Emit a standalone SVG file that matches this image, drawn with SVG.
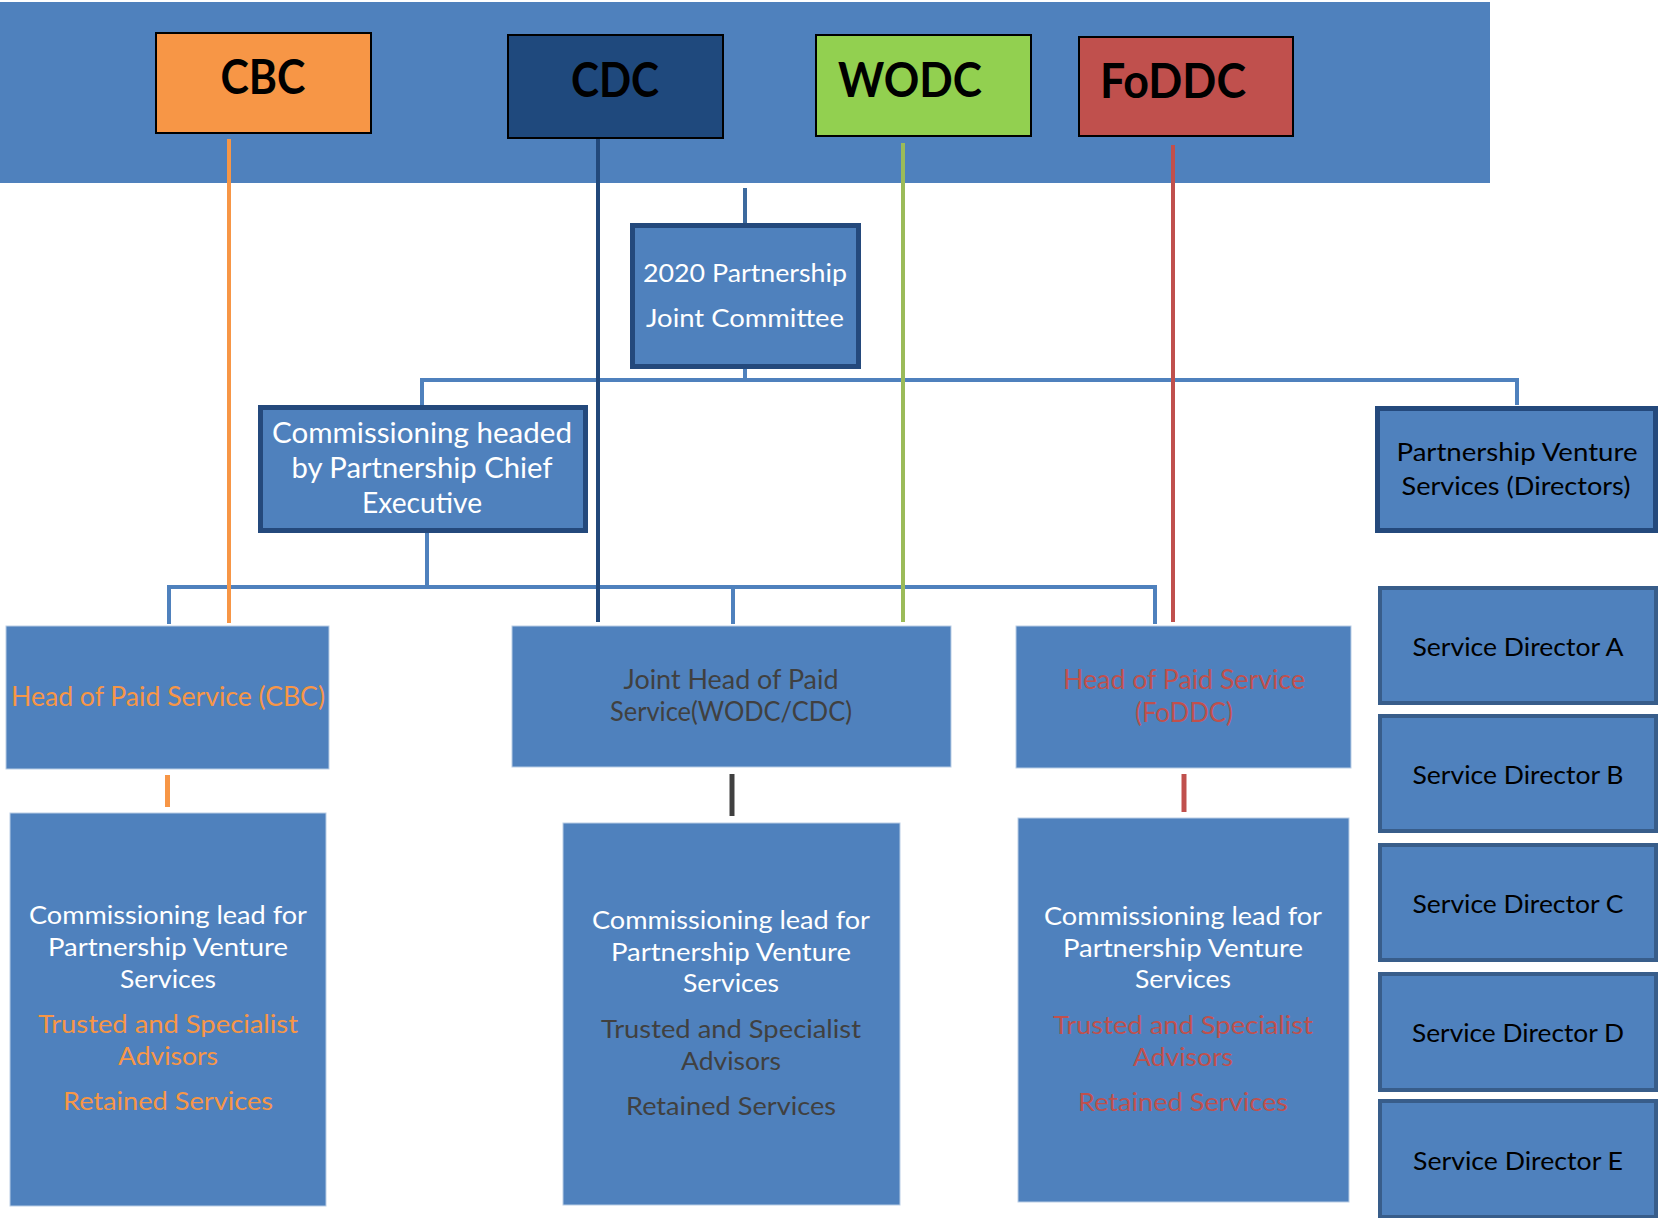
<svg xmlns="http://www.w3.org/2000/svg" width="1658" height="1218" viewBox="0 0 1658 1218">
<style>
  text { font-family: Lato, "Open Sans", "Liberation Sans", sans-serif; text-anchor: middle; }
  .title { font-size: 48px; font-weight: 700; fill: #000; }
  .t25 { font-size: 25px; }
  .t26 { font-size: 26px; }
  .t28 { font-size: 28.5px; }
  .white { fill: #FFFFFF; }
  .black { fill: #000000; }
  .orange { fill: #F79646; }
  .gray { fill: #404040; }
  .red { fill: #C0504D; }
  .box { fill: #4F81BD; }
  .dbox { fill: #4F81BD; stroke: #24497C; stroke-width: 5; }
  .sbox { fill: #4F81BD; stroke: #385D8A; stroke-width: 4; }
  .pbox { fill: #4F81BD; stroke: #B9CDE5; stroke-width: 1; }
  .conn { stroke: #4F81BD; stroke-width: 4; fill: none; }
</style>

<rect id="band" x="0" y="2" width="1490" height="181" fill="#4F81BD"/>

<g id="connectors">
  <line class="conn" x1="745" y1="188" x2="745" y2="223" stroke="#3D6A9E" style="stroke:#3D6A9E"/>
  <line class="conn" x1="745" y1="369" x2="745" y2="380"/>
  <polyline class="conn" points="422,405 422,380 1517,380 1517,405"/>
  <line class="conn" x1="427" y1="533" x2="427" y2="587"/>
  <polyline class="conn" points="169,624 169,587 1155,587 1155,624"/>
  <line class="conn" x1="733" y1="587" x2="733" y2="624"/>
  <line x1="229" y1="139" x2="229" y2="623" stroke="#F79646" stroke-width="4"/>
  <line x1="598" y1="139" x2="598" y2="622" stroke="#22487A" stroke-width="4"/>
  <line x1="903" y1="143" x2="903" y2="622" stroke="#9BBB59" stroke-width="4"/>
  <line x1="1173" y1="145" x2="1173" y2="622" stroke="#C0504D" stroke-width="4"/>
  <line x1="167.5" y1="775" x2="167.5" y2="807" stroke="#F79646" stroke-width="5"/>
  <line x1="732" y1="774" x2="732" y2="816" stroke="#404040" stroke-width="5"/>
  <line x1="1184" y1="774" x2="1184" y2="812" stroke="#C0504D" stroke-width="5"/>
</g>

<g id="cbc">
  <rect x="156" y="33" width="215" height="100" fill="#F79646" stroke="#000" stroke-width="2"/>
  <text class="title" x="263" y="94" textLength="85" lengthAdjust="spacingAndGlyphs">CBC</text>
</g>
<g id="cdc">
  <rect x="508" y="35" width="215" height="103" fill="#1F497D" stroke="#000" stroke-width="2"/>
  <text class="title" x="615" y="97" textLength="88" lengthAdjust="spacingAndGlyphs">CDC</text>
</g>
<g id="wodc">
  <rect x="816" y="35" width="215" height="101" fill="#92D050" stroke="#000" stroke-width="2"/>
  <text class="title" x="910" y="97" textLength="144" lengthAdjust="spacingAndGlyphs">WODC</text>
</g>
<g id="foddc">
  <rect x="1079" y="37" width="214" height="99" fill="#C0504D" stroke="#000" stroke-width="2"/>
  <text class="title" x="1173" y="98" textLength="146" lengthAdjust="spacingAndGlyphs">FoDDC</text>
</g>

<g id="joint-committee">
  <rect class="dbox" x="632.5" y="225.5" width="226" height="141"/>
  <text class="t25 white" x="745" y="282" textLength="204" lengthAdjust="spacingAndGlyphs">2020 Partnership</text>
  <text class="t25 white" x="745" y="327" textLength="198" lengthAdjust="spacingAndGlyphs">Joint Committee</text>
</g>

<g id="commissioning-headed">
  <rect class="dbox" x="260.5" y="407.5" width="325" height="123"/>
  <text class="t28 white" x="422" y="443" textLength="300" lengthAdjust="spacingAndGlyphs">Commissioning headed</text>
  <text class="t28 white" x="422" y="478" textLength="261" lengthAdjust="spacingAndGlyphs">by Partnership Chief</text>
  <text class="t28 white" x="422" y="513" textLength="120" lengthAdjust="spacingAndGlyphs">Executive</text>
</g>

<g id="pvs-directors">
  <rect class="dbox" x="1377.5" y="408.5" width="278" height="122"/>
  <text class="t25 black" x="1517" y="461" textLength="241" lengthAdjust="spacingAndGlyphs">Partnership Venture</text>
  <text class="t25 black" x="1516" y="495" textLength="229" lengthAdjust="spacingAndGlyphs">Services (Directors)</text>
</g>

<g id="sd-a">
  <rect class="sbox" x="1380" y="588" width="276" height="115"/>
  <text class="t25 black" x="1518" y="656" textLength="211" lengthAdjust="spacingAndGlyphs">Service Director A</text>
</g>
<g id="sd-b">
  <rect class="sbox" x="1380" y="716" width="276" height="115"/>
  <text class="t25 black" x="1518" y="784" textLength="211" lengthAdjust="spacingAndGlyphs">Service Director B</text>
</g>
<g id="sd-c">
  <rect class="sbox" x="1380" y="845" width="276" height="115"/>
  <text class="t25 black" x="1518" y="913" textLength="211" lengthAdjust="spacingAndGlyphs">Service Director C</text>
</g>
<g id="sd-d">
  <rect class="sbox" x="1380" y="974" width="276" height="116"/>
  <text class="t25 black" x="1518" y="1042" textLength="212" lengthAdjust="spacingAndGlyphs">Service Director D</text>
</g>
<g id="sd-e">
  <rect class="sbox" x="1380" y="1101" width="276" height="116"/>
  <text class="t25 black" x="1518" y="1170" textLength="210" lengthAdjust="spacingAndGlyphs">Service Director E</text>
</g>

<g id="head-cbc">
  <rect class="pbox" x="6" y="626" width="323" height="143"/>
  <text class="t26 orange" x="168" y="706" textLength="314" lengthAdjust="spacingAndGlyphs">Head of Paid Service (CBC)</text>
</g>
<g id="head-joint">
  <rect class="pbox" x="512" y="626" width="439" height="141"/>
  <text class="t26 gray" x="731" y="689" textLength="215" lengthAdjust="spacingAndGlyphs">Joint Head of Paid</text>
  <text class="t26 gray" x="731" y="721" textLength="242" lengthAdjust="spacingAndGlyphs">Service(WODC/CDC)</text>
</g>
<g id="head-foddc">
  <rect class="pbox" x="1016" y="626" width="335" height="142"/>
  <text class="t26 red" x="1184" y="689" textLength="242" lengthAdjust="spacingAndGlyphs">Head of Paid Service</text>
  <text class="t26 red" x="1184" y="722" textLength="98" lengthAdjust="spacingAndGlyphs">(FoDDC)</text>
</g>

<g id="lead-cbc">
  <rect class="pbox" x="10" y="813" width="316" height="393"/>
  <text class="t25 white" x="168" y="924" textLength="278" lengthAdjust="spacingAndGlyphs">Commissioning lead for</text>
  <text class="t25 white" x="168" y="956" textLength="240" lengthAdjust="spacingAndGlyphs">Partnership Venture</text>
  <text class="t25 white" x="168" y="988" textLength="96" lengthAdjust="spacingAndGlyphs">Services</text>
  <text class="t25 orange" x="168" y="1033" textLength="260" lengthAdjust="spacingAndGlyphs">Trusted and Specialist</text>
  <text class="t25 orange" x="168" y="1065" textLength="100" lengthAdjust="spacingAndGlyphs">Advisors</text>
  <text class="t25 orange" x="168" y="1110" textLength="210" lengthAdjust="spacingAndGlyphs">Retained Services</text>
</g>
<g id="lead-joint">
  <rect class="pbox" x="563" y="823" width="337" height="382"/>
  <text class="t25 white" x="731" y="929" textLength="278" lengthAdjust="spacingAndGlyphs">Commissioning lead for</text>
  <text class="t25 white" x="731" y="961" textLength="240" lengthAdjust="spacingAndGlyphs">Partnership Venture</text>
  <text class="t25 white" x="731" y="992" textLength="96" lengthAdjust="spacingAndGlyphs">Services</text>
  <text class="t25 gray" x="731" y="1038" textLength="260" lengthAdjust="spacingAndGlyphs">Trusted and Specialist</text>
  <text class="t25 gray" x="731" y="1070" textLength="100" lengthAdjust="spacingAndGlyphs">Advisors</text>
  <text class="t25 gray" x="731" y="1115" textLength="210" lengthAdjust="spacingAndGlyphs">Retained Services</text>
</g>
<g id="lead-foddc">
  <rect class="pbox" x="1018" y="818" width="331" height="384"/>
  <text class="t25 white" x="1183" y="925" textLength="278" lengthAdjust="spacingAndGlyphs">Commissioning lead for</text>
  <text class="t25 white" x="1183" y="957" textLength="240" lengthAdjust="spacingAndGlyphs">Partnership Venture</text>
  <text class="t25 white" x="1183" y="988" textLength="96" lengthAdjust="spacingAndGlyphs">Services</text>
  <text class="t25 red" x="1183" y="1034" textLength="260" lengthAdjust="spacingAndGlyphs">Trusted and Specialist</text>
  <text class="t25 red" x="1183" y="1066" textLength="100" lengthAdjust="spacingAndGlyphs">Advisors</text>
  <text class="t25 red" x="1183" y="1111" textLength="210" lengthAdjust="spacingAndGlyphs">Retained Services</text>
</g>
</svg>
